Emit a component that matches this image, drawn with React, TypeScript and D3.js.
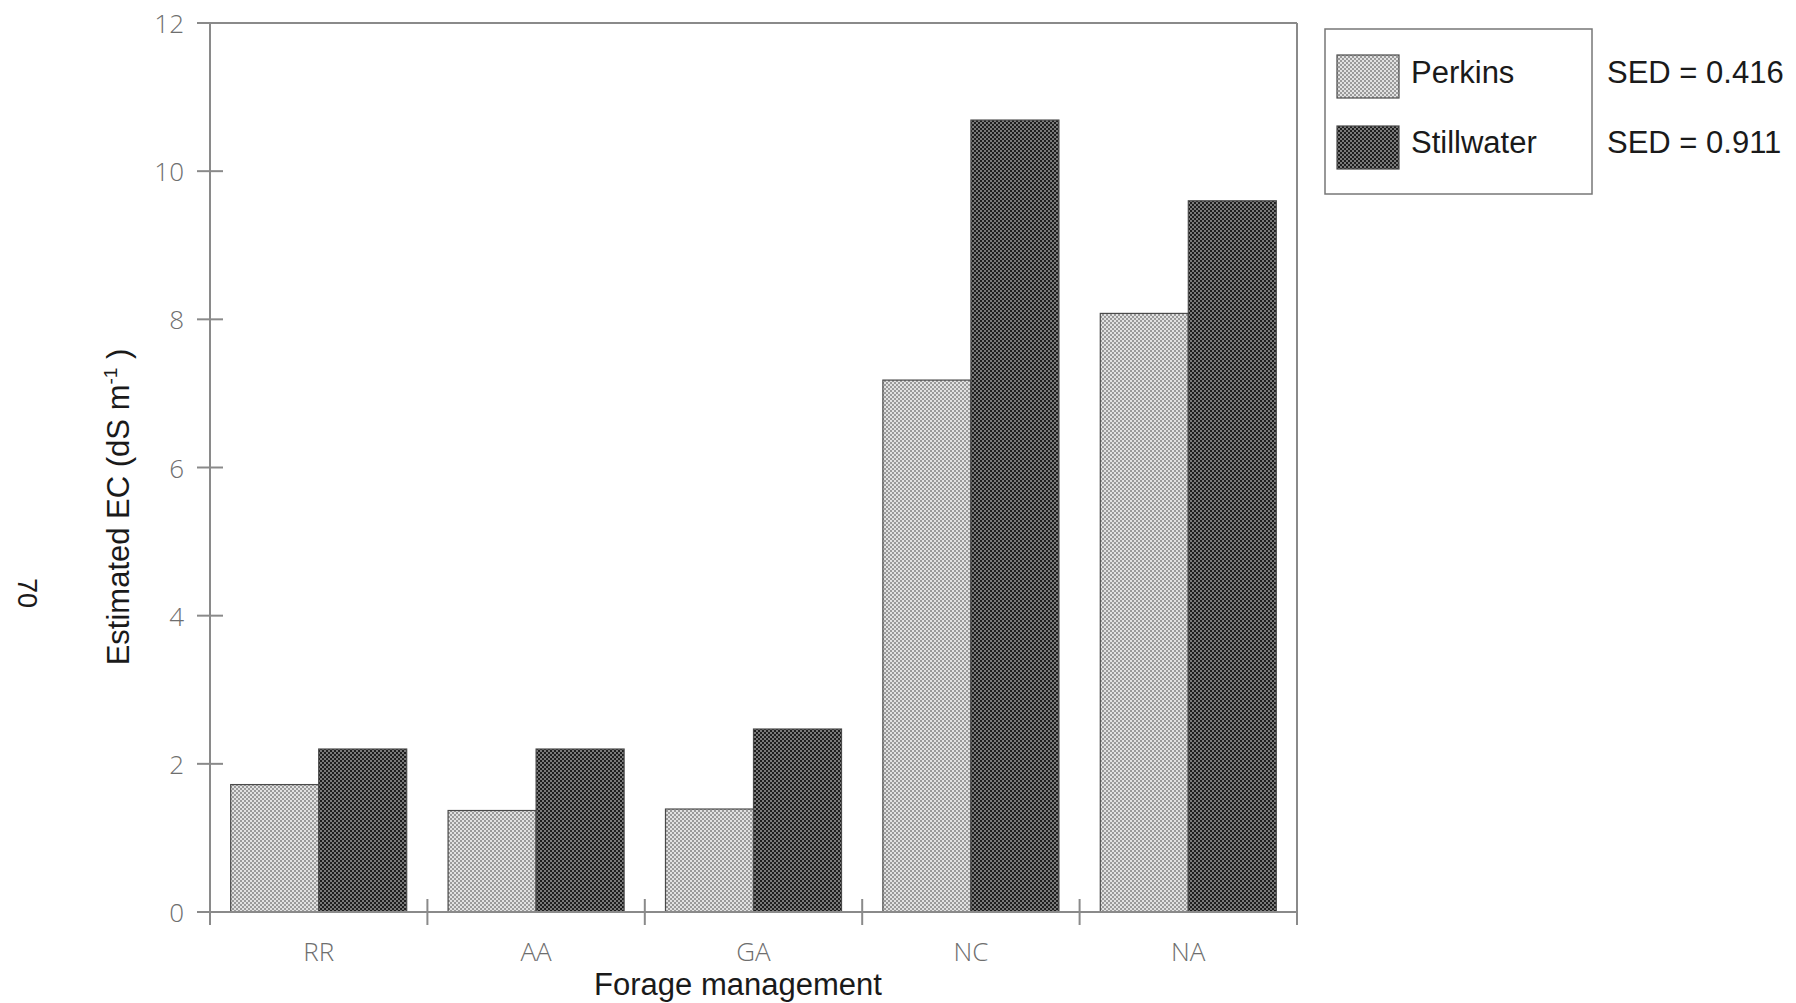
import React from "react";
import * as d3 from "d3";

const categories = ["RR", "AA", "GA", "NC", "NA"];
const seriesNames = ["Perkins", "Stillwater"];
const perkins = [1.72, 1.37, 1.39, 7.18, 8.08];
const stillwater = [2.2, 2.2, 2.47, 10.69, 9.6];
const sedLabels = ["SED = 0.416", "SED = 0.911"];
const yTicks = [0, 2, 4, 6, 8, 10, 12];

const W = 1796;
const H = 1003;
const left = 210;
const right = 1297;
const top = 23;
const bottom = 912;

export default function App() {
  const x = d3.scaleBand<string>().domain(categories).range([left, right]).paddingInner(0).paddingOuter(0);
  const inner = d3
    .scaleBand<string>()
    .domain(seriesNames)
    .range([0, x.bandwidth()])
    .paddingInner(0)
    .paddingOuter(0.235);
  const y = d3.scaleLinear().domain([0, 12]).range([bottom, top]);
  const values = [perkins, stillwater];
  const fills = ["url(#patLight)", "url(#patDark)"];
  const axisColor = "#8a8a8a";
  const tickFont = "'Open Sans', 'DejaVu Sans', sans-serif";
  const boundaries = d3.range(categories.length + 1).map((i) => left + i * x.step());

  return (
    <svg
      width={W}
      height={H}
      style={{ position: "absolute", left: 0, top: 0, background: "#fff" }}
    >
      <defs>
        <pattern id="patLight" patternUnits="userSpaceOnUse" width={4} height={4}>
          <rect width={4} height={4} fill="#e2e2e2" />
          <rect x={0} y={0} width={2} height={2} fill="#9a9a9a" />
          <rect x={2} y={2} width={2} height={2} fill="#9a9a9a" />
        </pattern>
        <pattern id="patDark" patternUnits="userSpaceOnUse" width={4} height={4}>
          <rect width={4} height={4} fill="#7a7a7a" />
          <rect x={0} y={0} width={2} height={2} fill="#1e1e1e" />
          <rect x={2} y={2} width={2} height={2} fill="#1e1e1e" />
        </pattern>
      </defs>

      {/* bars */}
      {categories.map((c, ci) =>
        seriesNames.map((s, si) => (
          <rect
            key={c + s}
            x={(x(c) as number) + (inner(s) as number)}
            y={y(values[si][ci])}
            width={inner.bandwidth()}
            height={y(0) - y(values[si][ci])}
            fill={fills[si]}
            stroke="#4a4a4a"
            strokeWidth={1.2}
          />
        ))
      )}

      {/* frame */}
      <line x1={left} x2={left} y1={top} y2={bottom + 13} stroke={axisColor} strokeWidth={2} />
      <line x1={left - 13} x2={right} y1={top} y2={top} stroke={axisColor} strokeWidth={2} />
      <line x1={right} x2={right} y1={top} y2={bottom + 13} stroke={axisColor} strokeWidth={2} />
      <line x1={left - 13} x2={right} y1={bottom} y2={bottom} stroke={axisColor} strokeWidth={2} />

      {/* y ticks */}
      {yTicks.map((t) => (
        <g key={t}>
          <line x1={left - 13} x2={left + 13} y1={y(t)} y2={y(t)} stroke={axisColor} strokeWidth={2} />
          <text
            x={184}
            y={y(t)}
            textAnchor="end"
            dominantBaseline="central"
            fontFamily={tickFont}
            fontWeight={300}
            fontSize={26}
            fill="#6e6e6e"
          >
            {t}
          </text>
        </g>
      ))}

      {/* x ticks */}
      {boundaries.map((b, i) => (
        <line key={i} x1={b} x2={b} y1={bottom - 13} y2={bottom + 13} stroke={axisColor} strokeWidth={2} />
      ))}
      {categories.map((c) => (
        <text
          key={c}
          x={(x(c) as number) + x.bandwidth() / 2}
          y={961}
          textAnchor="middle"
          fontFamily={tickFont}
          fontWeight={300}
          fontSize={26}
          fill="#6e6e6e"
        >
          {c}
        </text>
      ))}

      {/* axis titles */}
      <text
        x={738}
        y={995}
        textAnchor="middle"
        fontFamily="'Liberation Sans', Arial, sans-serif"
        fontSize={31}
        fill="#1a1a1a"
      >
        Forage management
      </text>
      <text
        transform="translate(129,507) rotate(-90)"
        textAnchor="middle"
        fontFamily="'Liberation Sans', Arial, sans-serif"
        fontSize={31}
        fill="#1a1a1a"
      >
        Estimated EC (dS m
        <tspan fontSize={19} dy={-12}>-1</tspan>
        <tspan dy={12}> )</tspan>
      </text>

      {/* page number */}
      <text
        transform="translate(18,593) rotate(90)"
        textAnchor="middle"
        fontFamily="'Liberation Sans', Arial, sans-serif"
        fontSize={27}
        fill="#1a1a1a"
      >
        70
      </text>

      {/* legend */}
      <rect x={1325} y={29} width={267} height={165} fill="#fff" stroke="#777" strokeWidth={1.5} />
      {seriesNames.map((s, i) => (
        <g key={s}>
          <rect
            x={1337}
            y={55 + i * 71}
            width={62}
            height={43}
            fill={fills[i]}
            stroke="#4a4a4a"
            strokeWidth={1.2}
          />
          <text
            x={1411}
            y={83 + i * 70}
            fontFamily="'Liberation Sans', Arial, sans-serif"
            fontSize={31}
            fill="#1a1a1a"
          >
            {s}
          </text>
          <text
            x={1607}
            y={83 + i * 70}
            fontFamily="'Liberation Sans', Arial, sans-serif"
            fontSize={31}
            fill="#1a1a1a"
          >
            {sedLabels[i]}
          </text>
        </g>
      ))}
    </svg>
  );
}
